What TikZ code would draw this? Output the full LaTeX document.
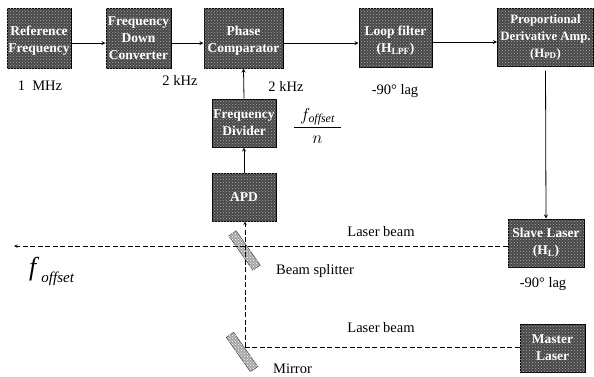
\documentclass[tikz,border=0pt]{standalone}
\usepackage{fontspec}
\setmainfont{Liberation Serif}
\usetikzlibrary{patterns}
\newcommand{\lowtext}{\rule{0pt}{15pt}}
\begin{document}
\begin{tikzpicture}[
        x=1pt, y=-1pt,
        blk/.style={draw=black, line width=1pt, fill=black!72, postaction={pattern=crosshatch dots, pattern color=gray!65},
          inner sep=0pt, align=center, text=white, font=\bfseries\fontsize{13.5}{17}\selectfont},
        lbl/.style={inner sep=0pt, font=\fontsize{14.5}{17}\selectfont},
        optic/.style={draw=black!80, fill=gray!70, postaction={pattern=crosshatch dots, pattern color=white},
          minimum width=42pt, minimum height=9pt, inner sep=0pt},
        arr/.style={-stealth, line width=0.8pt},
        beam/.style={line width=0.6pt, dash pattern=on 5pt off 2.5pt}
      ]
        \useasboundingbox (0,0) rectangle (594,376);
        % top row
        \node[blk, minimum width=64pt, minimum height=60pt] (reffreq) at (39,38) {\lowtext Reference\\Frequency};
        \node[blk, minimum width=65pt, minimum height=60pt] (downconv) at (138.5,38) {Frequency\\Down\\Converter};
        \node[blk, minimum width=79pt, minimum height=60pt] (phase) at (243.5,38) {\lowtext Phase\\Comparator};
        \node[blk, minimum width=73pt, minimum height=59pt] (loop) at (395.5,37.5) {\lowtext Loop filter\\(H\textsubscript{LPF})};
        \node[blk, minimum width=96pt, minimum height=58pt, font=\bfseries\fontsize{12.8}{17}\selectfont] (pdamp) at (545.5,37) {Proportional\\Derivative Amp.\\(H\textsubscript{PD})};
        % middle column
        \node[blk, minimum width=64pt, minimum height=48pt] (divider) at (244,123) {Frequency\\Divider};
        \node[blk, minimum width=64pt, minimum height=48pt] (apd) at (244,197) {APD};
        % lasers
        \node[blk, minimum width=76pt, minimum height=48pt] (slave) at (546,243) {Slave Laser\\(H\textsubscript{L})};
        \node[blk, minimum width=65pt, minimum height=48pt] (master) at (552.5,348) {Master\\Laser};
        % optics
        \node[optic, rotate=-55] (splitter) at (244.5,250.5) {};
        \node[optic, rotate=-55] (mirror) at (242,352) {};
        \coordinate (fout) at (14,246);
        \coordinate (bend) at (245,347);
        % labels
        \node[lbl] (lmhz) at (40,86) {1~~MHz};
        \node[lbl] (lkhza) at (180,80) {2 kHz};
        \node[lbl] (lkhzb) at (286,86) {2 kHz};
        \node[lbl] (llaga) at (395,91) {-90° lag};
        \node[lbl] (llagb) at (543,284) {-90° lag};
        \node[lbl] (lbeama) at (381,232) {Laser beam};
        \node[lbl] (lbeamb) at (381,328) {Laser beam};
        \node[lbl] (lsplit) at (315,271) {Beam splitter};
        \node[lbl, anchor=west] (lmirror) at (273,369) {Mirror};
        \node[lbl, font=\fontsize{17}{20}\selectfont] (lfrac) at (317.5,126) {$\displaystyle\frac{\hspace*{6pt}f_{\mathit{offset}}\hspace*{6pt}}{n}$};
        \node[lbl, anchor=west] (lfoff) at (29,271) {\fontsize{26}{28}\selectfont\itshape f\hspace{5pt}\raisebox{-7pt}{\fontsize{15}{16}\selectfont offset}};
        % connectors
        \draw[arr] ([yshift=-5pt]reffreq.east) -- ([yshift=-5pt]downconv.west);
        \draw[arr] ([yshift=-5pt]downconv.east) -- ([yshift=-5pt]phase.west);
        \draw[arr] ([yshift=-5pt]phase.east) -- ([yshift=-5.5pt]loop.west);
        \draw[arr] ([yshift=-4.5pt]loop.east) -- ([yshift=-5pt]pdamp.west);
        \draw[arr] (divider.north) -- (phase.south);
        \draw[arr] (apd.north) -- (divider.south);
        \draw[arr, shorten <=4pt] (pdamp.south) -- (slave.north);
        % beams
        \draw[beam, -stealth] ([yshift=-3pt]slave.west) -- (fout);
        \draw[beam] ([yshift=1pt]master.west) -- (bend);
        \draw[beam, -stealth] (bend) -- (apd.south -| bend);
      \end{tikzpicture}
\end{document}
